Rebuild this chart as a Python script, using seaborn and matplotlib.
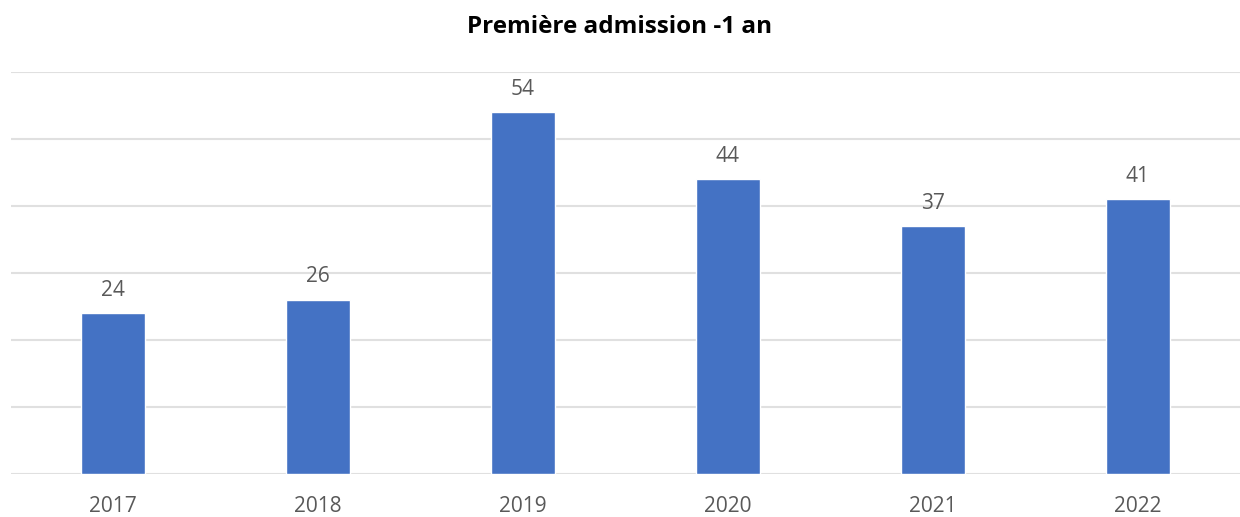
import matplotlib
matplotlib.use("Agg")
import matplotlib.pyplot as plt
import seaborn as sns
import pandas as pd

# Chart data
years = ["2017", "2018", "2019", "2020", "2021", "2022"]
admissions = [24, 26, 54, 44, 37, 41]

bar_color = "#4472C4"
text_color = "#595959"
grid_color = "#E0E0E0"

sns.set_theme(style="white")
plt.rcParams["font.family"] = ["Open Sans", "DejaVu Sans"]

df = pd.DataFrame({"year": years, "value": admissions})

fig = plt.figure(figsize=(12.4, 5.17), dpi=100)
ax = fig.add_axes([0.0085, 0.0832, 0.9915, 0.7775])

sns.barplot(data=df, x="year", y="value", color=bar_color, saturation=1,
            width=0.312, ax=ax, zorder=3)

ax.set_ylim(0, 60)
ax.set_yticks(range(0, 61, 10))
ax.yaxis.grid(True, color=grid_color, linewidth=1.5, zorder=0)
ax.set_axisbelow(True)
ax.tick_params(axis="y", left=False, labelleft=False)
ax.tick_params(axis="x", bottom=False, labelsize=15, labelcolor=text_color, pad=10)
for s in ax.spines.values():
    s.set_visible(False)
ax.set_xlabel("")
ax.set_ylabel("")

# Value labels above bars
for i, v in enumerate(admissions):
    ax.annotate(str(v), (i, v), xytext=(0, 9), textcoords="offset points",
                ha="center", va="bottom", fontsize=15, color=text_color)

fig.text(0.5, 0.948, "Première admission -1 an", ha="center", va="center",
         fontsize=17.5, fontweight="bold", color="black")

fig.savefig("out.png", dpi=100)
